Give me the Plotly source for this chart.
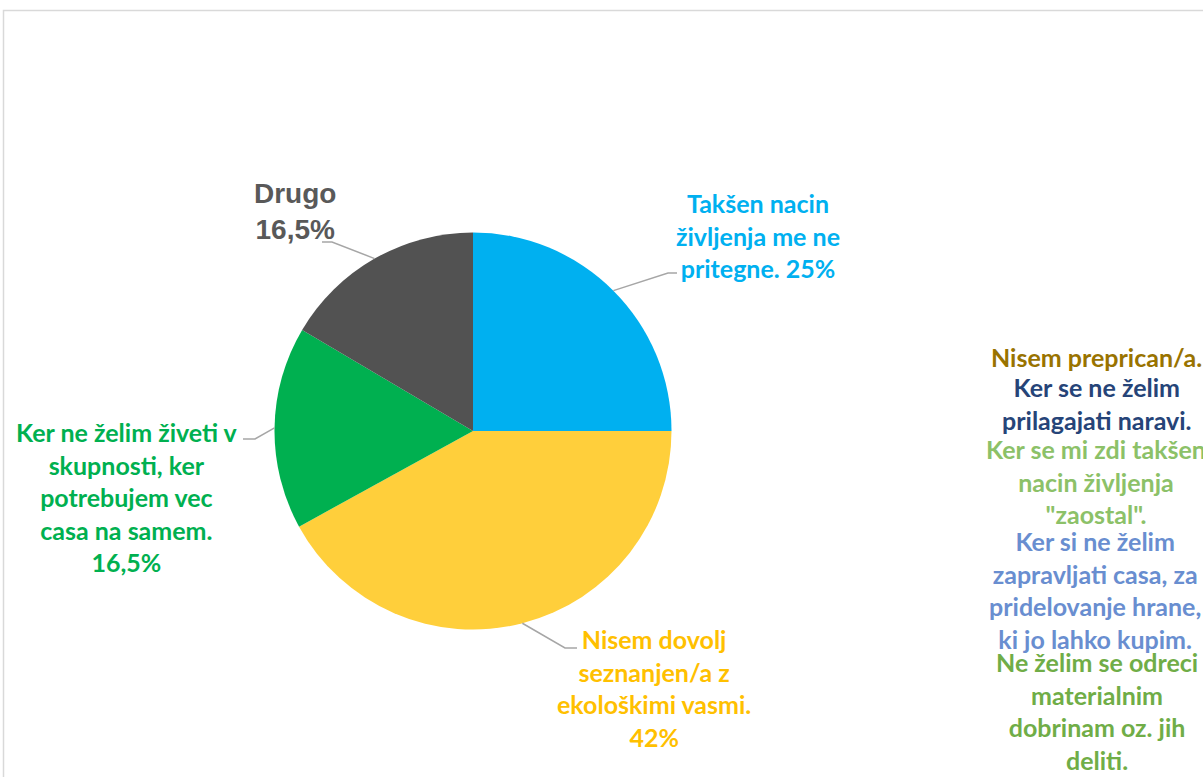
import math
import plotly.graph_objects as go

# ---------------- data ----------------
categories = [
    "Takšen nacin življenja me ne pritegne.",
    "Nisem dovolj seznanjen/a z ekološkimi vasmi.",
    "Ker ne želim živeti v skupnosti, ker potrebujem vec casa na samem.",
    "Drugo",
    "Nisem preprican/a.",
    "Ker se ne želim prilagajati naravi.",
    "Ker se mi zdi takšen nacin življenja \"zaostal\".",
    "Ker si ne želim zapravljati casa, za pridelovanje hrane, ki jo lahko kupim.",
    "Ne želim se odreci materialnim dobrinam oz. jih deliti.",
]
values = [25, 42, 16.5, 16.5, 0, 0, 0, 0, 0]
value_labels = ["25%", "42%", "16,5%", "16,5%", "", "", "", "", ""]
label_lines = [
    ["Takšen nacin", "življenja me ne", "pritegne. 25%"],
    ["Nisem dovolj", "seznanjen/a z", "ekološkimi vasmi.", "42%"],
    ["Ker ne želim živeti v", "skupnosti, ker", "potrebujem vec", "casa na samem.", "16,5%"],
    ["Drugo", "16,5%"],
    ["Nisem preprican/a."],
    ["Ker se ne želim", "prilagajati naravi."],
    ["Ker se mi zdi takšen", "nacin življenja", "\"zaostal\"."],
    ["Ker si ne želim", "zapravljati casa, za", "pridelovanje hrane,", "ki jo lahko kupim."],
    ["Ne želim se odreci", "materialnim", "dobrinam oz. jih", "deliti."],
]

# ---------------- styles / layout ----------------
W, H = 1203, 777
slice_colors = ["#00B0F0", "#FFCF3B", "#00B050", "#525252",
                "#997300", "#264478", "#8CC168", "#698ED0", "#70AD47"]
text_colors = ["#00B0F0", "#FFC000", "#00B050", "#595959",
               "#997300", "#264478", "#8CC168", "#698ED0", "#70AD47"]
label_fonts = ["Lato", "Lato", "Lato", "Liberation Sans", "Lato", "Lato", "Lato", "Lato", "Lato"]
label_sizes = [25, 25, 25, 28, 25, 25, 25, 25, 25]
label_pos = [(758, 235), (654, 688), (127, 497), (295, 212),
             (1096, 357), (1097, 403), (1096, 482), (1095, 590), (1097, 711)]
# leader line (elbow, end) in pixels, for labelled non-zero slices
leader_pts = {0: ((668, 273), (677, 273)),
              1: ((565, 648), (577, 648)),
              2: ((255, 439), (243, 439)),
              3: ((332, 242), (322, 242))}

cx, cy, r = 473, 431, 198.5


def px(x):
    return x / W


def py(y):
    return 1 - y / H


fig = go.Figure()
fig.add_trace(go.Pie(
    labels=categories,
    values=values,
    sort=False,
    direction="clockwise",
    rotation=0,
    marker=dict(colors=slice_colors, line=dict(width=0)),
    textinfo="none",
    hoverinfo="skip",
    showlegend=False,
    domain=dict(x=[px(cx - r), px(cx + r)], y=[py(cy + r), py(cy - r)]),
))

shapes = [dict(type="rect", xref="paper", yref="paper",
               x0=px(3.5), y0=py(10.5), x1=1.02, y1=-0.02,
               line=dict(color="#D9D9D9", width=1.5), fillcolor="rgba(0,0,0,0)",
               layer="below")]

total = sum(values)
cum = 0
for i, v in enumerate(values):
    mid = (cum + v / 2) / total * 2 * math.pi
    cum += v
    if i in leader_pts and v > 0:
        ex = cx + r * math.sin(mid)
        ey = cy - r * math.cos(mid)
        (bx, by), (tx, ty) = leader_pts[i]
        path = f"M {px(ex)},{py(ey)} L {px(bx)},{py(by)} L {px(tx)},{py(ty)}"
        shapes.append(dict(type="path", xref="paper", yref="paper", path=path,
                           line=dict(color="#A6A6A6", width=1.5)))

annotations = []
for i, lines in enumerate(label_lines):
    x, y = label_pos[i]
    annotations.append(dict(
        x=px(x), y=py(y), xref="paper", yref="paper",
        text="<br>".join(lines), showarrow=False,
        xanchor="center", yanchor="middle", align="center",
        font=dict(family=label_fonts[i], size=label_sizes[i],
                  color=text_colors[i], weight="bold"),
    ))

fig.update_layout(
    width=W, height=H,
    margin=dict(l=0, r=0, t=0, b=0),
    paper_bgcolor="white", plot_bgcolor="white",
    shapes=shapes, annotations=annotations,
)

fig.write_html("out.html")
